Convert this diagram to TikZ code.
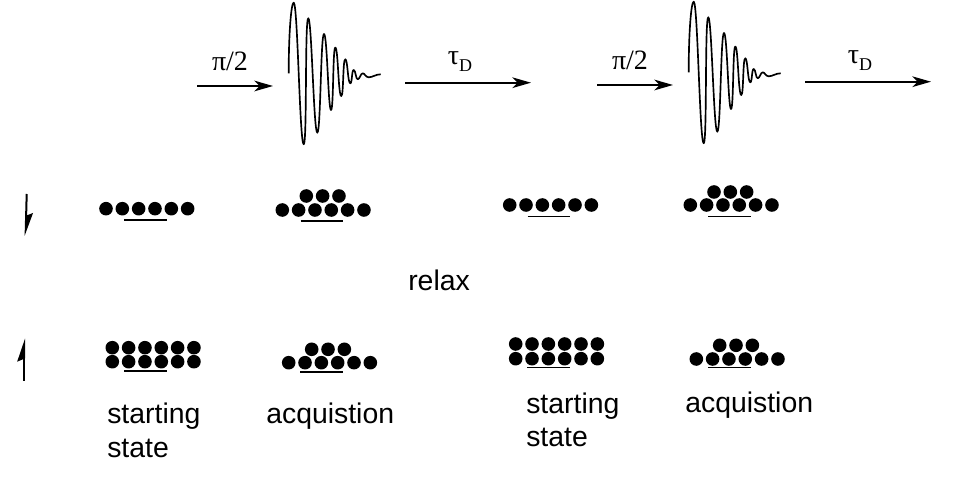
\documentclass[tikz,border=0pt]{standalone}
\usepackage{fontspec}
\setmainfont{Liberation Sans}
\newfontfamily\serifgreek{Liberation Serif}
\usetikzlibrary{arrows.meta}

\tikzset{
    spin/.style={circle, fill=black, inner sep=0pt, minimum size=10.2pt},
    base/.style={line width=1.2pt},
    arrow/.style={-{Stealth[length=14pt, width=8pt, inset=4pt]}, line width=1.5pt},
    halfspin/.style={-{Stealth[harpoon, length=15pt, width=10pt, inset=2pt]}, line width=1.5pt},
    word/.style={font=\fontsize{21.3pt}{25pt}\selectfont, anchor=base west, inner sep=0pt},
    pulse/.style={font=\serifgreek\fontsize{21pt}{25pt}\selectfont, anchor=base, inner sep=0pt},
    fidwave/.pic={
        \draw[line width=1.25pt, line join=round] (0,0)
            .. controls (0,-40) and (2.5,-70.6) .. (5,-70.6)
            .. controls (9,-70.6) and (11,71) .. (15,71)
            .. controls (18.5,71) and (16,-55) .. (19.6,-55)
            .. controls (23,-55) and (25,59.4) .. (28.6,59.4)
            .. controls (32,59.4) and (32,-39.3) .. (35.3,-39.3)
            .. controls (38.5,-39.3) and (39.5,36.7) .. (42.3,36.7)
            .. controls (45,36.7) and (44,-25.7) .. (46.6,-25.7)
            .. controls (49.5,-25.7) and (49.5,22.7) .. (52.6,22.7)
            .. controls (55,22.7) and (54,-14) .. (56.6,-14)
            .. controls (59,-14) and (59,10) .. (61.6,10)
            .. controls (63.5,10) and (63,-3.3) .. (65,-3.3)
            .. controls (67,-3.3) and (67,6) .. (69,6)
            .. controls (71,6) and (72,0) .. (74,0)
            .. controls (76,0) and (77,4) .. (80,4)
            .. controls (84,4) and (87,1) .. (92,1);
    }
}

% a row of spins, and the line under the middle ones
\newcommand{\spinrow}[4]{%
    \foreach \i in {1,...,#4}
        \node[spin] (#1\i) at ({#2+(\i-1)*16.33},#3) {};
}
\newcommand{\spinline}[3]{%
    \coordinate (#1l) at (#2,#3);
    \coordinate (#1r) at ({#2+42.7},#3);
    \draw[base] (#1l) -- (#1r);
}
\newcommand{\taulabel}[3]{%
    \node[pulse] (#1) at (#2,#3) {τ\raisebox{-5pt}{\fontsize{13.5pt}{16pt}\selectfont D}};
}

\begin{document}
\begin{tikzpicture}[x=0.75pt, y=-0.75pt]
    \useasboundingbox (0,0) rectangle (972,484);

    % pulse sequence
    \coordinate (pia) at (197.3,86);
    \coordinate (pib) at (273,86);
    \coordinate (taua) at (405,82.7);
    \coordinate (taub) at (531,82.7);
    \coordinate (pic) at (597.3,85);
    \coordinate (pid) at (673,85);
    \coordinate (tauc) at (805,81.7);
    \coordinate (taud) at (931,81.7);
    \draw[arrow] (pia) -- (pib);
    \draw[arrow] (taua) -- (taub);
    \draw[arrow] (pic) -- (pid);
    \draw[arrow] (tauc) -- (taud);
    \node[pulse] (pi_one) at (230,71) {π/2};
    \taulabel{tau_one}{460}{65}
    \node[pulse] (pi_two) at (630,70) {π/2};
    \taulabel{tau_two}{860}{64}
    \pic at (288.7,73.3) {fidwave};
    \pic at (688.7,72.3) {fidwave};

    % spin arrows
    \coordinate (dna) at (26.7,194);
    \coordinate (dnb) at (25.6,236);
    \coordinate (upa) at (24,381);
    \coordinate (upb) at (24,338.5);
    \draw[halfspin] (dna) -- (dnb);
    \draw[halfspin] (upa) -- (upb);

    % upper level
    \spinrow{a}{106}{208.7}{6}
    \spinline{al}{124.3}{220}
    \spinrow{b}{282.3}{210}{6}
    \spinrow{bt}{306.3}{196}{3}
    \spinline{bl}{300.7}{221}
    \spinrow{e}{509.7}{205}{6}
    \spinline{el}{527.7}{216.7}
    \spinrow{f}{690.3}{205}{6}
    \spinrow{ft}{714}{192}{3}
    \spinline{fl}{708.3}{216.7}

    % lower level
    \spinrow{ct}{112.3}{347.7}{6}
    \spinrow{c}{112.3}{361.7}{6}
    \spinline{cl}{124}{371}
    \spinrow{d}{288.7}{362.7}{6}
    \spinrow{dt}{311.7}{349.3}{3}
    \spinline{dl}{300.3}{372}
    \spinrow{gt}{515.7}{344}{6}
    \spinrow{g}{515.7}{358.7}{6}
    \spinline{gl}{527.3}{367.7}
    \spinrow{h}{696.3}{359}{6}
    \spinrow{ht}{719.7}{345.3}{3}
    \spinline{hl}{708}{367.7}

    % labels
    \node[word] (relax) at (408,291) {relax};
    \node[word] (start_one) at (107,424) {starting};
    \node[word] (state_one) at (107,457.5) {state};
    \node[word] (acq_one) at (266,424) {acquistion};
    \node[word] (start_two) at (526,414) {starting};
    \node[word] (state_two) at (526,447) {state};
    \node[word] (acq_two) at (685,413) {acquistion};
\end{tikzpicture}
\end{document}
